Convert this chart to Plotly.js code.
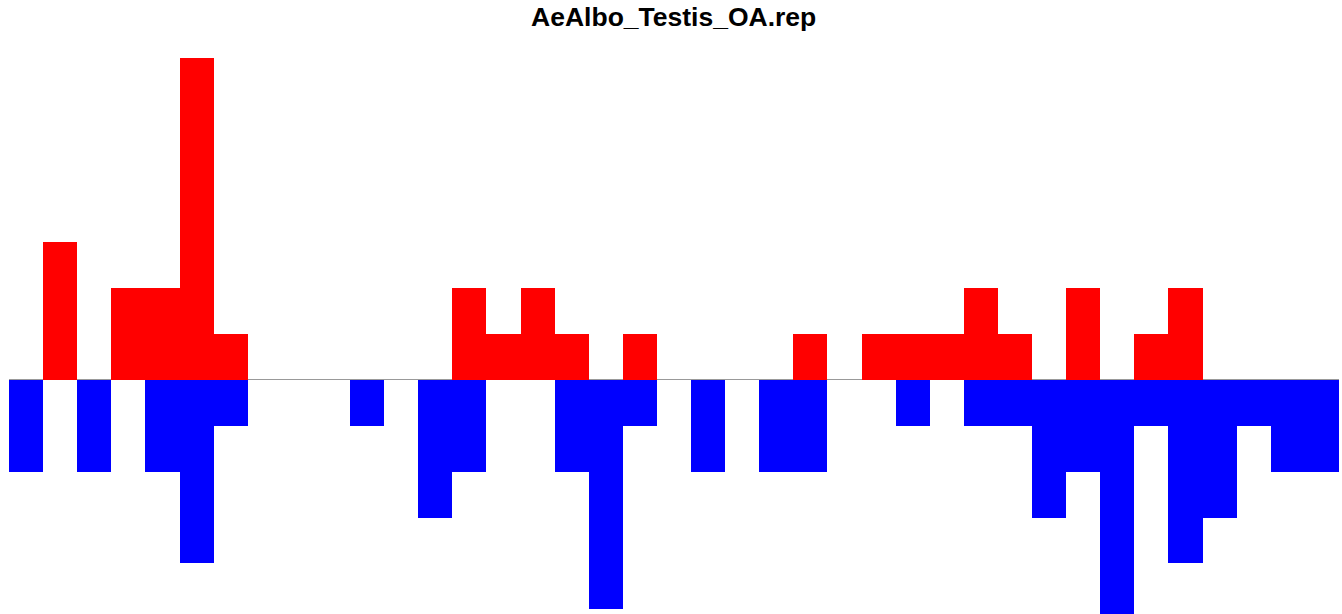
<!DOCTYPE html>
<html>
<head>
<meta charset="utf-8">
<script src="https://cdn.plot.ly/plotly-3.0.1.min.js"></script>
<style>html,body{margin:0;padding:0;background:#fff;}#chart{width:1342px;height:614px;}</style>
</head>
<body>
<div id="chart"></div>
<script>
const positions = Array.from({length: 39}, (_, i) => i + 1);
const upValues = [0,3,0,2,2,7,1,0,0,0,0,0,0,2,1,2,1,0,1,0,0,0,0,1,0,1,1,1,2,1,0,2,0,1,2,0,0,0,0];
const downValues = [-2,0,-2,0,-2,-4,-1,0,0,0,-1,0,-3,-2,0,0,-2,-5,-1,0,-2,0,-2,-2,0,0,-1,0,-1,-1,-3,-2,-6,-1,-4,-3,-1,-2,-2];
const titleText = "AeAlbo_Testis_OA.rep";

const traces = [
  {type: 'bar', x: positions, y: upValues, marker: {color: '#ff0000', line: {width: 0}}, hoverinfo: 'x+y'},
  {type: 'bar', x: positions, y: downValues, marker: {color: '#0000ff', line: {width: 0}}, hoverinfo: 'x+y'}
];

const layout = {
  width: 1342, height: 614,
  margin: {l: 9, r: 3, t: 58, b: 0, pad: 0},
  paper_bgcolor: '#ffffff', plot_bgcolor: '#ffffff',
  showlegend: false,
  barmode: 'relative', bargap: 0,
  title: {text: '<b>' + titleText + '</b>', x: 0.502, xanchor: 'center', y: 0.988, yanchor: 'top',
          font: {family: 'Liberation Sans, Arial, sans-serif', size: 26.5, color: '#000'}},
  xaxis: {range: [0.5, 39.5], showgrid: false, zeroline: false, showticklabels: false, ticks: '', showline: false},
  yaxis: {range: [-5.1, 7], showgrid: false, zeroline: true, zerolinecolor: '#999999', zerolinewidth: 1.5,
          showticklabels: false, ticks: '', showline: false}
};

Plotly.newPlot('chart', traces, layout, {displayModeBar: false, staticPlot: true});
</script>
</body>
</html>
